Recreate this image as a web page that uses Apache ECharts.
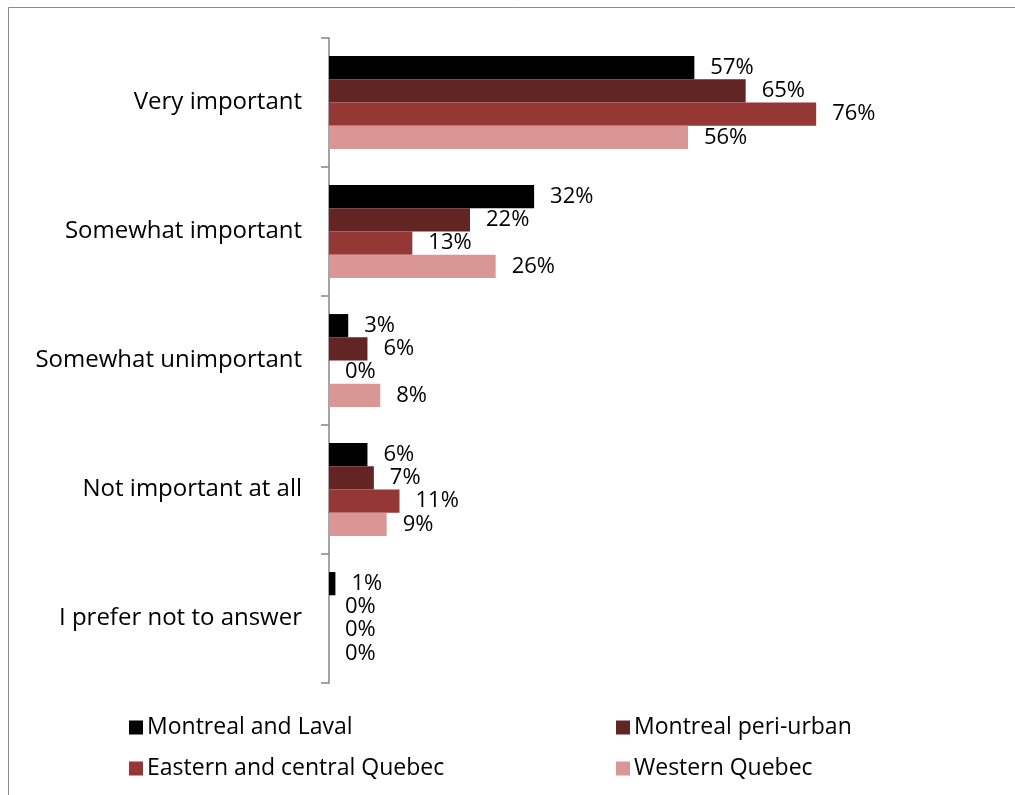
<!DOCTYPE html>
<html><head><meta charset="utf-8">
<script src="https://cdn.jsdelivr.net/npm/echarts@6/dist/echarts.min.js"></script>
<style>html,body{margin:0;padding:0;background:#fff}#c{width:1015px;height:795px}</style>
</head><body><div id="c"></div>
<script>
const categories = ['Very important','Somewhat important','Somewhat unimportant','Not important at all','I prefer not to answer'];
const seriesNames = ['Montreal and Laval','Montreal peri-urban','Eastern and central Quebec','Western Quebec'];
const montrealLaval = [57,32,3,6,1];
const montrealPeri = [65,22,6,7,0];
const easternCentral = [76,13,0,11,0];
const westernQuebec = [56,26,8,9,0];
const colors = ['#000000','#632523','#953735','#D99694'];
const values = [montrealLaval, montrealPeri, easternCentral, westernQuebec];
const FONT = 'Open Sans';
const chart = echarts.init(document.getElementById('c'));
const legendText = {fontSize:23,color:'#000',fontFamily:FONT,padding:[0,0,0,-1]};
chart.setOption({
  animation:false,
  textStyle:{fontFamily:FONT},
  graphic:[{type:'rect',shape:{x:8.5,y:7.5,width:1100,height:900},style:{fill:'none',stroke:'#8c8c8c',lineWidth:1},silent:true}],
  grid:{left:329,top:38,height:645,right:45},
  xAxis:{type:'value',min:0,max:100,show:false},
  yAxis:{type:'category',data:categories,inverse:true,
    axisLine:{show:true,lineStyle:{color:'#868686',width:1.5}},
    axisTick:{show:true,length:8,alignWithLabel:false,lineStyle:{color:'#868686',width:1.5}},
    axisLabel:{color:'#000',fontSize:24,fontFamily:FONT,margin:27}},
  legend:[
    {left:124,top:711,orient:'vertical',itemGap:18,itemWidth:14,itemHeight:14,icon:'rect',
     data:[seriesNames[0],seriesNames[2]],textStyle:legendText},
    {left:611,top:711,orient:'vertical',itemGap:18,itemWidth:14,itemHeight:14,icon:'rect',
     data:[seriesNames[1],seriesNames[3]],textStyle:legendText}
  ],
  series: values.map((v,i)=>({
    name:seriesNames[i],type:'bar',data:v,barGap:'0%',barCategoryGap:'28%',
    itemStyle:{color:colors[i]},
    label:{show:true,position:'right',distance:16,formatter:'{c}%',color:'#000',fontSize:22,fontFamily:FONT}
  }))
});
</script></body></html>
